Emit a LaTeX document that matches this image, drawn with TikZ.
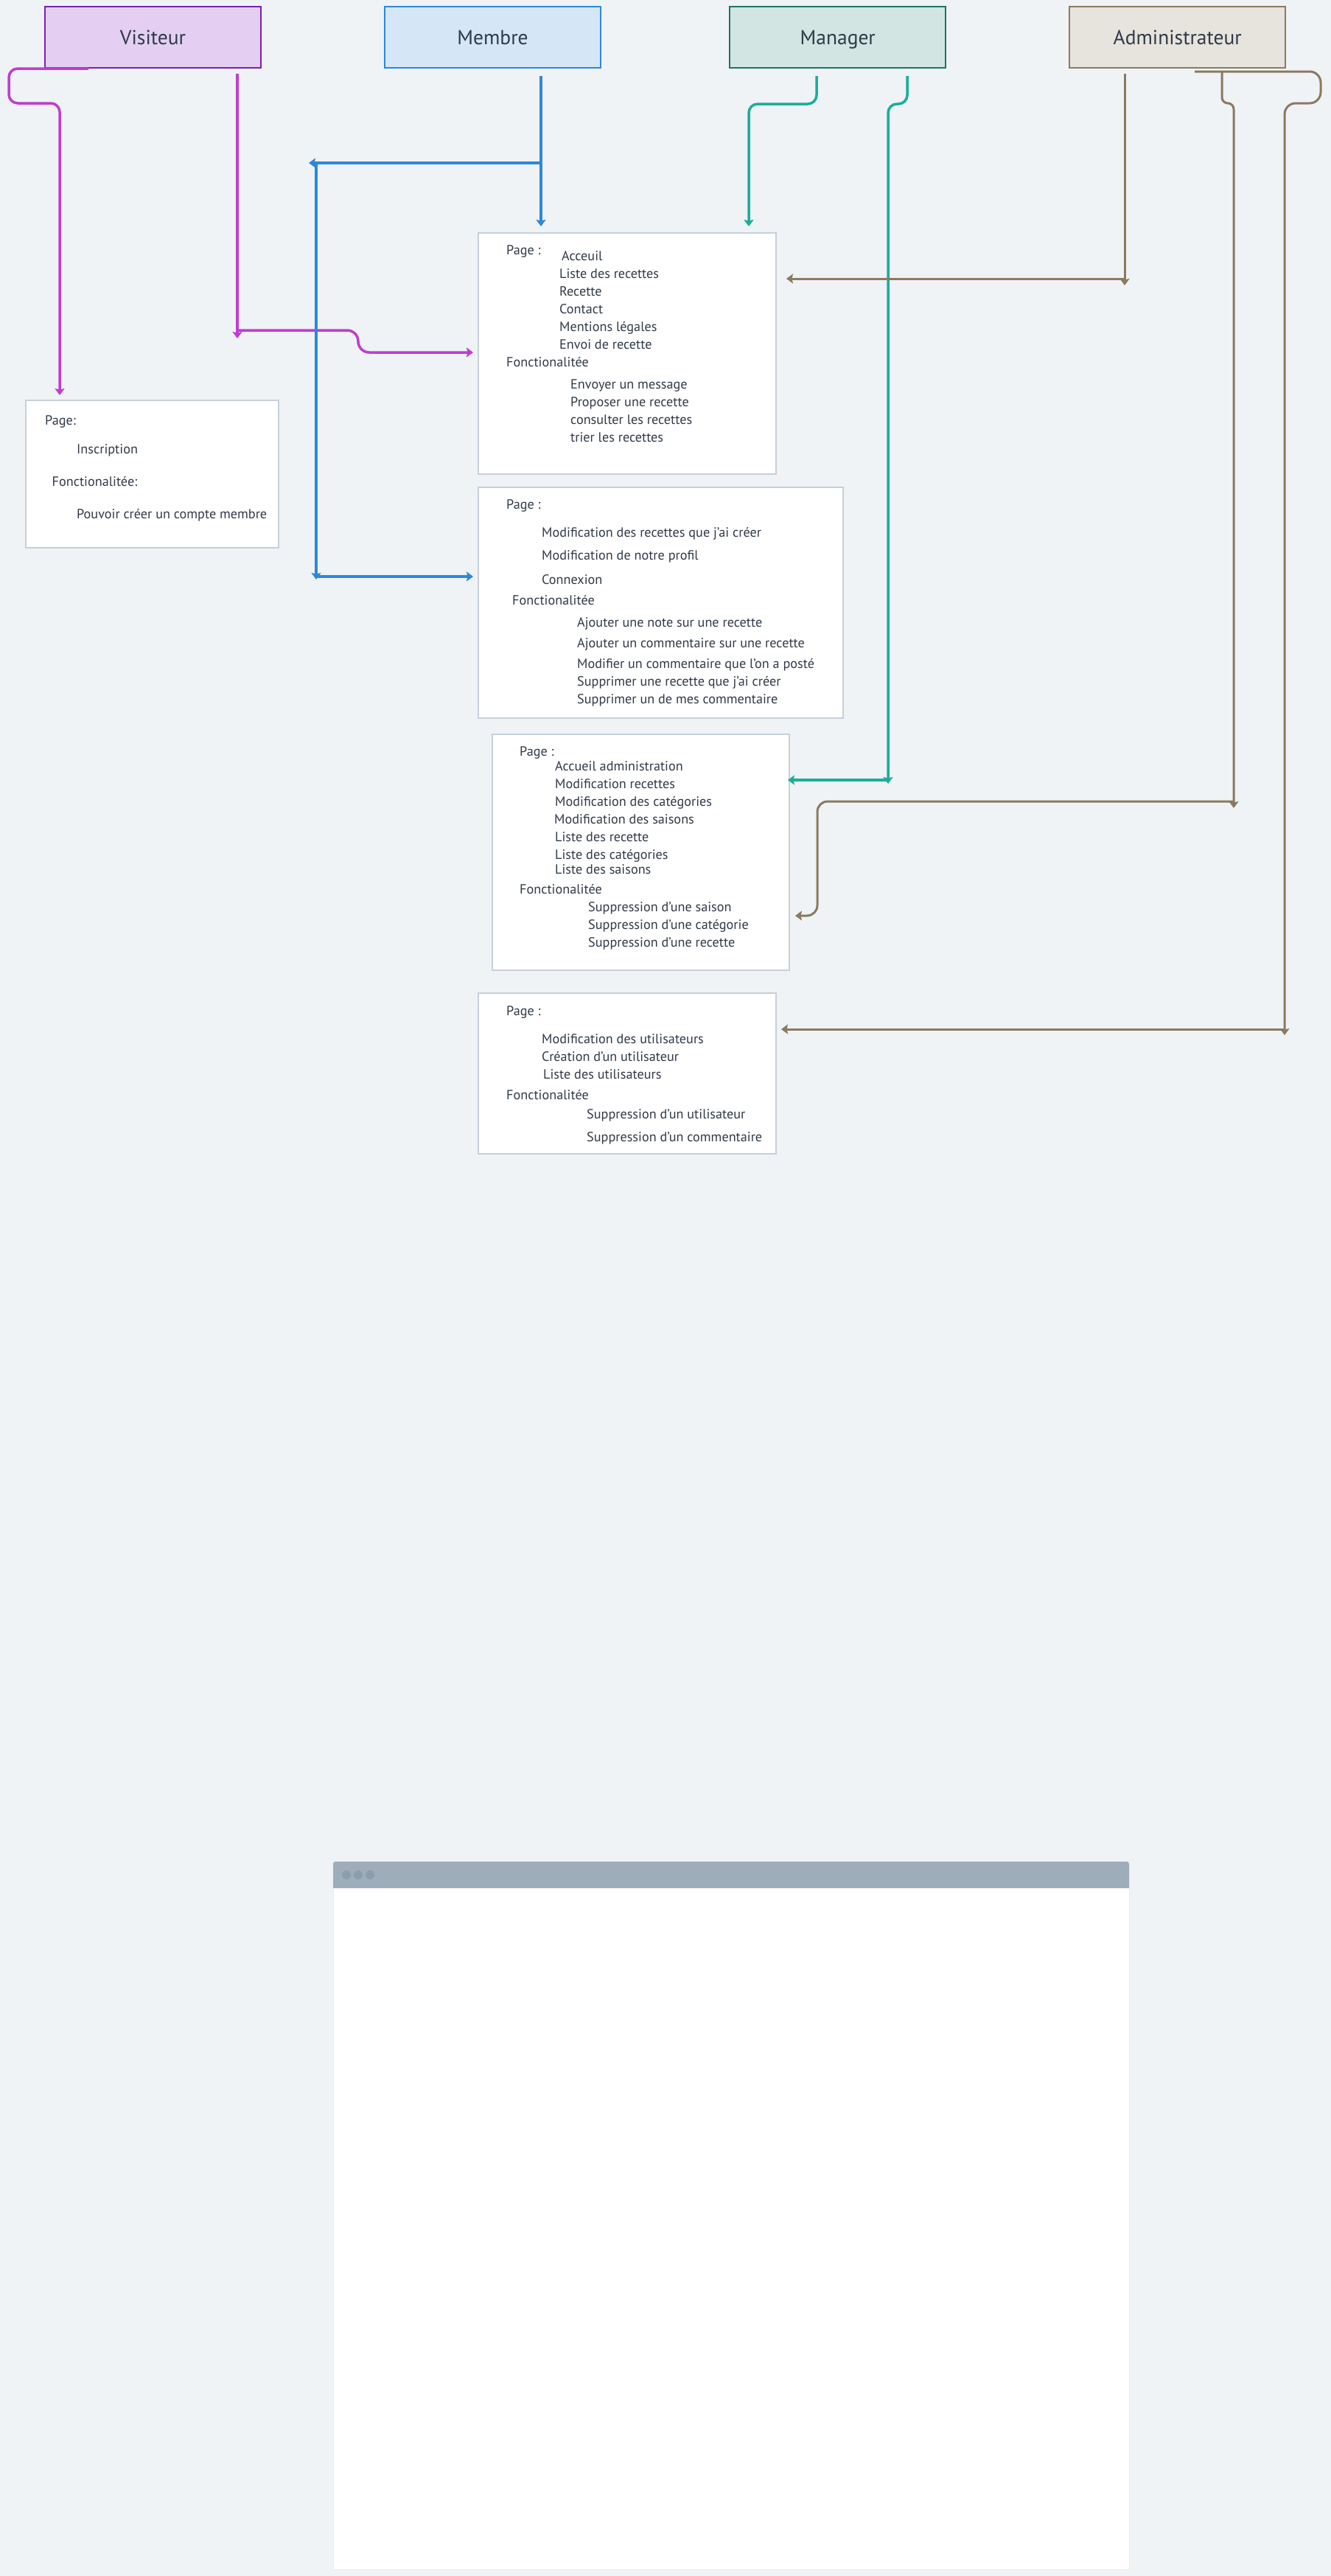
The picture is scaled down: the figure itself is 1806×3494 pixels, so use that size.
\documentclass[tikz,border=0pt]{standalone}
\usepackage{fontspec}
\setmainfont{PT Sans}
\usetikzlibrary{arrows.meta}

\definecolor{bg}{HTML}{EFF3F6}
\definecolor{ink}{HTML}{2F3A48}
\definecolor{cardline}{HTML}{C5D0DB}
\definecolor{visfill}{HTML}{E4CFF3}
\definecolor{visline}{HTML}{7A1FB5}
\definecolor{viswire}{HTML}{C03CD0}
\definecolor{memfill}{HTML}{D5E6F6}
\definecolor{memline}{HTML}{2C88D9}
\definecolor{manfill}{HTML}{D2E5E2}
\definecolor{manline}{HTML}{1B7566}
\definecolor{manwire}{HTML}{1AAE9A}
\definecolor{admfill}{HTML}{E7E3DD}
\definecolor{admline}{HTML}{8A7A5F}
\definecolor{chrome}{HTML}{9DADBA}
\definecolor{chromedot}{HTML}{8C9DAC}

\tikzset{
  hdr/.style={draw, line width=2pt, minimum width=293pt, minimum height=83pt,
    inner sep=0pt, text=ink, text height=19pt, text depth=0pt,
    font=\fontsize{27.5}{32}\selectfont},
  card/.style={draw=cardline, fill=white, line width=2pt, anchor=north west, inner sep=0pt},
  itm/.style={anchor=base west, inner sep=0pt, text=ink, font=\fontsize{18.2}{21}\selectfont},
  wire/.style={line width=3.5pt, -{Stealth[length=9pt,width=13pt,inset=1.5pt]}},
}

\begin{document}
\begin{tikzpicture}[x=1pt,y=-1pt]
\fill[bg] (0,0) rectangle (1806,3494);
\useasboundingbox (0,0) rectangle (1806,3494);

% role headers
\node[hdr, fill=visfill, draw=visline] (vis) at (207.5,50.5) {Visiteur};
\node[hdr, fill=memfill, draw=memline] (mem) at (668.5,50.5) {Membre};
\node[hdr, fill=manfill, draw=manline] (man) at (1136.75,50.5) {Manager};
\node[hdr, fill=admfill, draw=admline] (adm) at (1597.75,50.5) {Administrateur};

% page / feature cards
\node[card, minimum width=343pt, minimum height=200pt] (cvis) at (34,542) {};
\node[card, minimum width=404pt, minimum height=327pt] (cpub) at (648,315) {};
\node[card, minimum width=495pt, minimum height=313pt] (cmem) at (648,660) {};
\node[card, minimum width=403pt, minimum height=320pt] (cman) at (667,995) {};
\node[card, minimum width=404pt, minimum height=218pt] (cadm) at (648,1346) {};

% visitor card
\node[itm] (v1) at (61,576) {Page:};
\node[itm] (v2) at (104,615) {Inscription};
\node[itm] (v3) at (70.5,659) {Fonctionalitée:};
\node[itm] (v4) at (104,703) {Pouvoir créer un compte membre};

% public card
\node[itm] (a1) at (687,345) {Page :};
\node[itm] (a2) at (762,353) {Acceuil};
\node[itm] (a3) at (759,377) {Liste des recettes};
\node[itm] (a4) at (759,401) {Recette};
\node[itm] (a5) at (759,425) {Contact};
\node[itm] (a6) at (759,449) {Mentions légales};
\node[itm] (a7) at (759,473) {Envoi de recette};
\node[itm] (a8) at (687,497) {Fonctionalitée};
\node[itm] (a9) at (774,527) {Envoyer un message};
\node[itm] (a10) at (774,551) {Proposer une recette};
\node[itm] (a11) at (774,575) {consulter les recettes};
\node[itm] (a12) at (774,599) {trier les recettes};

% member card
\node[itm] (b1) at (687,690) {Page :};
\node[itm] (b2) at (735,728) {Modification des recettes que j'ai créer};
\node[itm] (b3) at (735,759) {Modification de notre profil};
\node[itm] (b4) at (735,792) {Connexion};
\node[itm] (b5) at (695,820) {Fonctionalitée};
\node[itm] (b6) at (783,850) {Ajouter une note sur une recette};
\node[itm] (b7) at (783,878) {Ajouter un commentaire sur une recette};
\node[itm] (b8) at (783,906) {Modifier un commentaire que l'on a posté};
\node[itm] (b9) at (783,930) {Supprimer une recette que j'ai créer};
\node[itm] (b10) at (783,954) {Supprimer un de mes commentaire};

% manager card
\node[itm] (c1) at (705,1025) {Page :};
\node[itm] (c2) at (753,1045) {Accueil administration};
\node[itm] (c3) at (753,1069) {Modification recettes};
\node[itm] (c4) at (753,1093) {Modification des catégories};
\node[itm] (c5) at (752,1117) {Modification des saisons};
\node[itm] (c6) at (753,1141) {Liste des recette};
\node[itm] (c7) at (753,1165) {Liste des catégories};
\node[itm] (c8) at (753,1185) {Liste des saisons};
\node[itm] (c9) at (705,1212) {Fonctionalitée};
\node[itm] (c10) at (798,1236) {Suppression d'une saison};
\node[itm] (c11) at (798,1260) {Suppression d'une catégorie};
\node[itm] (c12) at (798,1284) {Suppression d'une recette};

% admin card
\node[itm] (d1) at (687,1377) {Page :};
\node[itm] (d2) at (735,1415) {Modification des utilisateurs};
\node[itm] (d3) at (735,1439) {Création d'un utilisateur};
\node[itm] (d4) at (737,1463) {Liste des utilisateurs};
\node[itm] (d5) at (687,1491) {Fonctionalitée};
\node[itm] (d6) at (796,1517) {Suppression d'un utilisateur};
\node[itm] (d7) at (796,1548) {Suppression d'un commentaire};

% routing points
\coordinate (visL) at (120,93);
\coordinate (visR) at (322,100);
\coordinate (visJ) at (322,448);
\coordinate (memT) at (734,103);
\coordinate (memJ) at (734,221);
\coordinate (memK) at (429,221);
\coordinate (memM) at (429,782);
\coordinate (manA) at (1108,103);
\coordinate (manB) at (1231,103);
\coordinate (manJ) at (1205,1058);
\coordinate (admA) at (1526,100);
\coordinate (admJ) at (1526,378);
\coordinate (admB) at (1621,97);
\coordinate (admK) at (1658,97);
\coordinate (admM) at (1674,1087);
\coordinate (admN) at (1743,1396);

% visitor connectors
\draw[wire, draw=viswire, rounded corners=12pt]
  (visL) -- (12,93) -- (12,140) -- (81,140) -- (81,536);
\draw[wire, draw=viswire] (visR) -- (322,459);
\draw[wire, draw=viswire, rounded corners=15pt]
  (visJ) -- (486,448) -- (486,478) -- (642,478);

% member connectors
\draw[wire, draw=memline] (memT) -- (734,307);
\draw[wire, draw=memline] (memJ) -- (419,221);
\draw[wire, draw=memline] (memK) -- (429,786);
\draw[wire, draw=memline] (memM) -- (642,782);

% manager connectors
\draw[wire, draw=manwire, rounded corners=12pt]
  (manA) -- (1108,141) -- (1016,141) -- (1016,307);
\draw[wire, draw=manwire, rounded corners=12pt]
  (manB) -- (1231,141) -- (1205,141) -- (1205,1063);
\draw[wire, draw=manwire] (manJ) -- (1069,1058);

% administrator connectors
\draw[wire, draw=admline, line width=3pt] (admA) -- (1526,387);
\draw[wire, draw=admline, line width=3pt] (admJ) -- (1067,378);
\draw[wire, draw=admline, line width=3pt, rounded corners=8pt]
  (admK) -- (1658,140) -- (1674,140) -- (1674,1096);
\draw[wire, draw=admline, line width=3pt, rounded corners=14pt]
  (admM) -- (1109,1087) -- (1109,1242) -- (1079,1242);
\draw[wire, draw=admline, line width=3pt, rounded corners=15pt]
  (admB) -- (1792,97) -- (1792,140) -- (1743,140) -- (1743,1404);
\draw[wire, draw=admline, line width=3pt] (admN) -- (1060,1396);

% empty browser window
\node[fill=white, draw=cardline!40, line width=1pt, anchor=north west, minimum width=1080pt,
  minimum height=960pt, inner sep=0pt] (win) at (452,2525) {};
\fill[chrome] (452,2561) [rounded corners=3pt] -- (452,2525)
  -- (1532,2525) [sharp corners] -- (1532,2561) -- cycle;
\fill[chromedot] (470,2543) circle[radius=6];
\fill[chromedot] (486,2543) circle[radius=6];
\fill[chromedot] (502,2543) circle[radius=6];
\end{tikzpicture}
\end{document}
